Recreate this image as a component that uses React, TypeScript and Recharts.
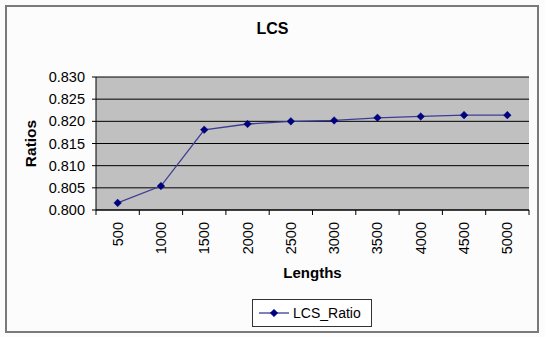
import { LineChart, Line, XAxis, YAxis, CartesianGrid, Legend, Label } from 'recharts';

const lengths = ['500', '1000', '1500', '2000', '2500', '3000', '3500', '4000', '4500', '5000'];
const lcsRatio = [0.8016, 0.8054, 0.8181, 0.8194, 0.8200, 0.8202, 0.8208, 0.8211, 0.8214, 0.8214];
const yTicks = [0.8, 0.805, 0.81, 0.815, 0.82, 0.825, 0.83];

const data = lengths.map((len, i) => ({ len, LCS_Ratio: lcsRatio[i] }));

const FONT = '"Liberation Sans", Arial, sans-serif';
const NAVY = '#000080';

const Diamond = (props: any) => {
  const { cx, cy } = props;
  if (cx == null || cy == null) return null;
  const r = 3.8;
  return (
    <polygon
      points={`${cx},${cy - r} ${cx + r},${cy} ${cx},${cy + r} ${cx - r},${cy}`}
      fill={NAVY}
      stroke={NAVY}
      strokeWidth={0.5}
    />
  );
};

// rotated category label + tick marks on the band edges
const XTick = (props: any) => {
  const { x, y, payload, index, width, visibleTicksCount } = props;
  const half = width / visibleTicksCount / 2;
  const top = y - 8;
  return (
    <g>
      <line x1={x - half} y1={top} x2={x - half} y2={top + 5} stroke="#000" strokeWidth={1} />
      {index === visibleTicksCount - 1 && (
        <line x1={x + half} y1={top} x2={x + half} y2={top + 5} stroke="#000" strokeWidth={1} />
      )}
      <text
        x={x}
        y={top + 12}
        transform={`rotate(-90, ${x}, ${top + 12})`}
        textAnchor="end"
        dominantBaseline="central"
        fontSize={14.5}
        fontFamily={FONT}
        fill="#000"
      >
        {payload.value}
      </text>
    </g>
  );
};

const LegendBox = () => (
  <div
    style={{
      boxSizing: 'border-box',
      width: 120,
      height: 28,
      border: '1px solid #333',
      background: '#fff',
      display: 'flex',
      alignItems: 'center',
      fontFamily: FONT,
      fontSize: 14,
      color: '#000',
    }}
  >
    <svg width={36} height={16} style={{ marginLeft: 4 }}>
      <line x1={2} y1={8} x2={32} y2={8} stroke="#3c3c96" strokeWidth={1.3} />
      <Diamond cx={17} cy={8} />
    </svg>
    <span style={{ marginLeft: 0 }}>LCS_Ratio</span>
  </div>
);

export default function App() {
  return (
    <div style={{ position: 'absolute', left: 0, top: 0, width: 545, height: 337, background: '#fcfcfc' }}>
      <div
        style={{
          position: 'absolute',
          left: 5,
          top: 5,
          width: 534,
          height: 328,
          boxSizing: 'border-box',
          border: '2px solid #7a7a7a',
        }}
      />
      <div
        style={{
          position: 'absolute',
          left: 0,
          top: 20,
          width: 545,
          textAlign: 'center',
          fontFamily: FONT,
          fontWeight: 'bold',
          fontSize: 16,
          color: '#000',
        }}
      >
        LCS
      </div>
      <LineChart
        width={545}
        height={337}
        data={data}
        margin={{ top: 77, right: 16, bottom: 0, left: 0 }}
        style={{ position: 'absolute', left: 0, top: 0 }}
      >
        <CartesianGrid vertical={false} stroke="#000" strokeOpacity={1} fill="#c0c0c0" fillOpacity={1} />
        <XAxis
          dataKey="len"
          scale="band"
          height={127}
          interval={0}
          tickLine={false}
          axisLine={{ stroke: '#000' }}
          tick={<XTick />}
        >
          <Label
            value="Lengths"
            position="insideTop"
            offset={57}
            style={{ fontFamily: FONT, fontWeight: 'bold', fontSize: 15, fill: '#000' }}
          />
        </XAxis>
        <YAxis
          width={96}
          domain={[0.8, 0.83]}
          ticks={yTicks}
          interval={0}
          tickFormatter={(v: number) => v.toFixed(3)}
          tickSize={4}
          tickMargin={7}
          tickLine={{ stroke: '#000' }}
          axisLine={{ stroke: '#000' }}
          tick={{ fontSize: 14.5, fontFamily: FONT, fill: '#000' }}
          label={{
            content: (p: any) => {
              const vb = p.viewBox;
              const cx = 30;
              const cy = vb.y + vb.height / 2;
              return (
                <text
                  x={cx}
                  y={cy}
                  transform={`rotate(-90, ${cx}, ${cy})`}
                  textAnchor="middle"
                  dominantBaseline="central"
                  fontFamily={FONT}
                  fontWeight="bold"
                  fontSize={15.5}
                  fill="#000"
                >
                  Ratios
                </text>
              );
            },
          }}
        />
        <Legend
          layout="horizontal"
          align="center"
          verticalAlign="middle"
          content={<LegendBox />}
          wrapperStyle={{ left: 252, top: 299, width: 120, height: 28 }}
        />
        <Line
          type="linear"
          dataKey="LCS_Ratio"
          stroke="#3c3c96"
          strokeWidth={1.3}
          dot={<Diamond />}
          activeDot={false}
          isAnimationActive={false}
        />
      </LineChart>
    </div>
  );
}
